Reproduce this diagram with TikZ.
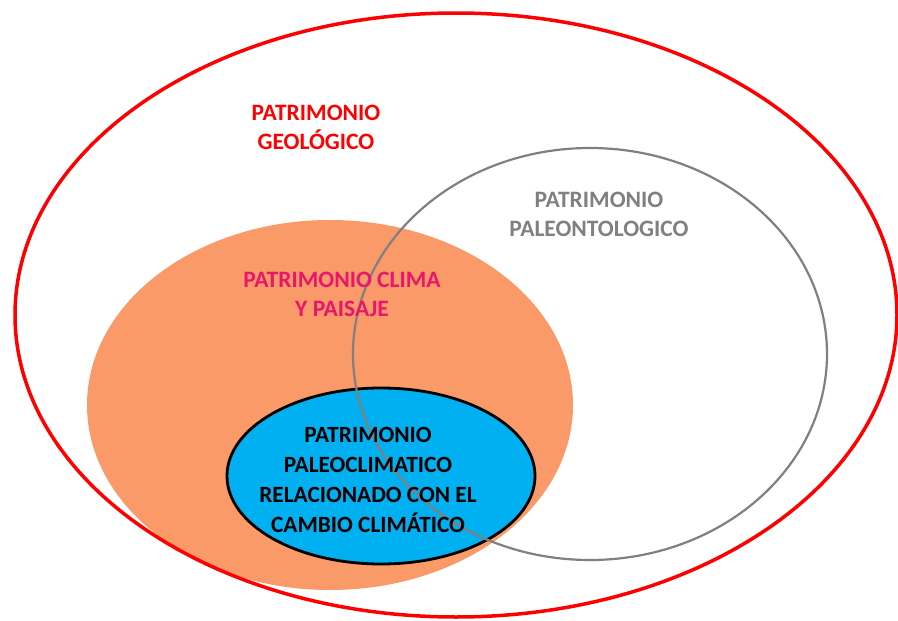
\documentclass[tikz,border=0pt]{standalone}
\usepackage{fontspec}
\setmainfont{Carlito}
\definecolor{geored}{RGB}{255,0,0}
\definecolor{climapink}{RGB}{233,22,108}
\definecolor{paleogray}{RGB}{128,128,128}
\definecolor{orangefill}{RGB}{250,154,104}
\definecolor{bluefill}{RGB}{0,176,240}
\tikzset{
  lbl/.style={align=center, font=\fontsize{23.5}{29}\selectfont\bfseries, inner sep=0pt},
}
\begin{document}
\begin{tikzpicture}[x=1pt,y=-1pt]
\useasboundingbox (0,0) rectangle (898,621);
\fill[white] (0,0) rectangle (898,621);
% orange: clima y paisaje
\fill[orangefill] (330,405) ellipse [x radius=243pt, y radius=185pt];
% blue: paleoclimatico
\filldraw[fill=bluefill, draw=black, line width=2.8pt] (381,476) ellipse [x radius=154pt, y radius=88pt];
% gray: paleontologico
\draw[paleogray, line width=2.2pt] (590,354) ellipse [x radius=237pt, y radius=206pt];
% red: geologico
\draw[geored, line width=3.5pt] (456,315) ellipse [x radius=441pt, y radius=302pt];
% labels
\node[lbl, text=geored] (geo) at (316,127.5) {PATRIMONIO\\GEOLÓGICO};
\node[lbl, text=paleogray] (paleo) at (599,214.5) {PATRIMONIO\\PALEONTOLOGICO};
\node[lbl, text=climapink] (clima) at (342,294) {PATRIMONIO CLIMA\\Y PAISAJE};
\node[lbl, text=black, font=\fontsize{23.3}{30}\selectfont\bfseries] (paleocl) at (368,480) {PATRIMONIO\\PALEOCLIMATICO\\RELACIONADO CON EL\\CAMBIO CLIMÁTICO};
\end{tikzpicture}
\end{document}
